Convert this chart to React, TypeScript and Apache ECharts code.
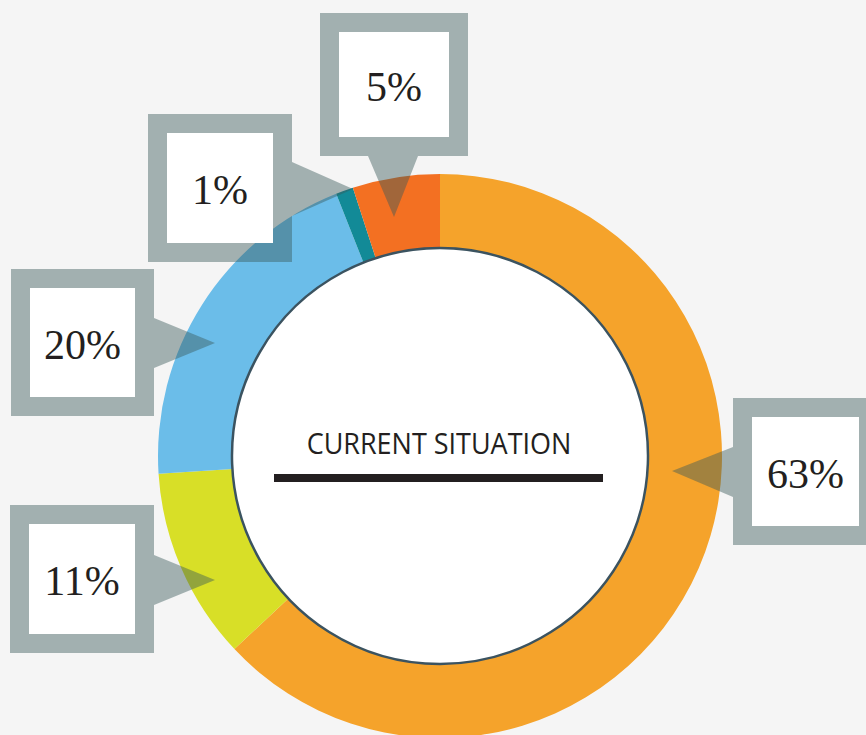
import React, { useEffect, useRef } from "react";
import * as echarts from "echarts";

// ---- Data ----
const sliceNames = ["Segment 63", "Segment 11", "Segment 20", "Segment 1", "Segment 5"];
const sliceValues = [63, 11, 20, 1, 5];
const centerTitle = "CURRENT SITUATION";

// ---- Styles ----
const sliceColors = ["#f5a32b", "#d8df27", "#6bbde9", "#128a97", "#f37022"];

// ---- Callout layout (annotation boxes), index matches sliceValues ----
type Callout = {
  x: number; y: number; w: number; h: number;
  side: "left" | "right" | "bottom";
  b1: number; b2: number; tx: number; ty: number;
};
const callouts: Callout[] = [
  { x: 733, y: 398, w: 145, h: 147, side: "left", b1: 447, b2: 497, tx: 672, ty: 471 },
  { x: 10, y: 505, w: 144, h: 148, side: "right", b1: 555, b2: 605, tx: 215, ty: 580 },
  { x: 11, y: 269, w: 143, h: 147, side: "right", b1: 318, b2: 368, tx: 215, ty: 343 },
  { x: 148, y: 114, w: 144, h: 148, side: "right", b1: 162, b2: 216, tx: 353, ty: 189 },
  { x: 320, y: 13, w: 148, h: 143, side: "bottom", b1: 368, b2: 418, tx: 394, ty: 217 },
];
const frame = 19;

function calloutShape(c: Callout): number[][] {
  const { x, y, w, h } = c;
  const x1 = x + w, y1 = y + h;
  if (c.side === "right") {
    return [[x, y], [x1, y], [x1, c.b1], [c.tx, c.ty], [x1, c.b2], [x1, y1], [x, y1]];
  }
  if (c.side === "left") {
    return [[x, y], [x1, y], [x1, y1], [x, y1], [x, c.b2], [c.tx, c.ty], [x, c.b1]];
  }
  return [[x, y], [x1, y], [x1, y1], [c.b2, y1], [c.tx, c.ty], [c.b1, y1], [x, y1]];
}

export default function App() {
  const ref = useRef<HTMLDivElement>(null);
  useEffect(() => {
    if (!ref.current) return;
    const chart = echarts.init(ref.current, null, { renderer: "svg" });

    const graphics: any[] = [];
    sliceValues.forEach((v, i) => {
      const c = callouts[i];
      graphics.push({
        type: "polygon",
        z: 100,
        silent: true,
        shape: { points: calloutShape(c) },
        style: { fill: "rgba(57,89,89,0.44)" },
      });
      graphics.push({
        type: "rect",
        z: 101,
        silent: true,
        shape: { x: c.x + frame, y: c.y + frame, width: c.w - 2 * frame, height: c.h - 2 * frame },
        style: { fill: "#ffffff" },
      });
      graphics.push({
        type: "text",
        z: 102,
        silent: true,
        x: c.x + c.w / 2,
        y: c.y + c.h / 2 + 2,
        style: {
          text: v + "%",
          font: "42px 'Liberation Serif', 'DejaVu Serif', serif",
          fill: "#231f20",
          align: "center",
          verticalAlign: "middle",
        },
      });
    });
    graphics.push({
      type: "text",
      z: 102,
      silent: true,
      x: 439,
      y: 442,
      scaleX: 0.9,
      style: {
        text: centerTitle,
        font: "30px 'Open Sans', 'Noto Sans', sans-serif",
        fill: "#231f20",
        align: "center",
        verticalAlign: "middle",
      },
    });
    graphics.push({
      type: "rect",
      z: 102,
      silent: true,
      shape: { x: 274, y: 474, width: 329, height: 8 },
      style: { fill: "#231f20" },
    });

    chart.setOption({
      animation: false,
      backgroundColor: "#f5f5f5",
      series: [
        {
          type: "pie",
          center: [440, 456],
          radius: [208, 282],
          startAngle: 90,
          clockwise: true,
          silent: true,
          label: { show: false },
          labelLine: { show: false },
          emphasis: { disabled: true },
          itemStyle: { borderWidth: 0 },
          data: sliceValues.map((v, i) => ({
            name: sliceNames[i],
            value: v,
            itemStyle: { color: sliceColors[i] },
          })),
        },
        {
          type: "pie",
          center: [440, 456],
          radius: [0, 208],
          silent: true,
          label: { show: false },
          labelLine: { show: false },
          emphasis: { disabled: true },
          itemStyle: { color: "#ffffff", borderColor: "#3b5360", borderWidth: 2.5 },
          data: [{ name: "center", value: 1 }],
        },
      ],
      graphic: { elements: graphics },
    });
    return () => chart.dispose();
  }, []);
  return (
    <div
      ref={ref}
      style={{ position: "fixed", left: 0, top: 0, width: 866, height: 735 }}
    />
  );
}
